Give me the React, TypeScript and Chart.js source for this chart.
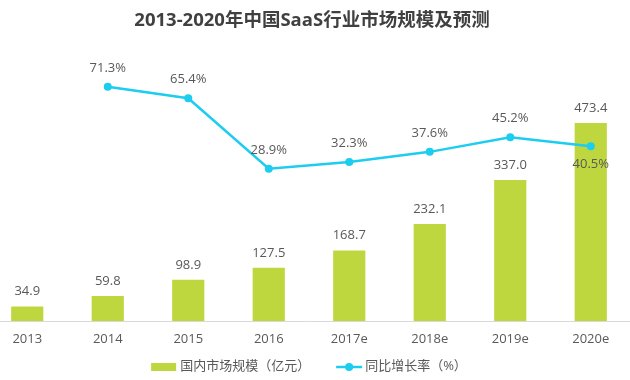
import React, { useEffect, useRef } from "react";
import { Chart, registerables } from "chart.js";

Chart.register(...registerables);

const TITLE = "2013-2020年中国SaaS行业市场规模及预测";
const categories = ["2013", "2014", "2015", "2016", "2017e", "2018e", "2019e", "2020e"];
const marketSize = [34.9, 59.8, 98.9, 127.5, 168.7, 232.1, 337.0, 473.4];
const growthRate: (number | null)[] = [null, 71.3, 65.4, 28.9, 32.3, 37.6, 45.2, 40.5];
const barLegend = "国内市场规模（亿元）";
const lineLegend = "同比增长率（%）";

const BAR_COLOR = "#BFD73F";
const LINE_COLOR = "#1DCDF0";
const TEXT_COLOR = "#595959";
const TITLE_COLOR = "#404040";
const FONT = "'Open Sans', 'Noto Sans CJK SC', sans-serif";
const OFFSET_X = 13;

const overlayPlugin = {
  id: "overlay",
  afterDatasetsDraw(chart: any) {
    const ctx = chart.ctx;
    ctx.save();
    const barMeta = chart.getDatasetMeta(0);
    ctx.font = `13px ${FONT}`;
    ctx.fillStyle = TEXT_COLOR;
    ctx.textAlign = "center";
    ctx.textBaseline = "alphabetic";
    barMeta.data.forEach((el: any, i: number) => {
      ctx.fillText(marketSize[i].toFixed(1), el.x, el.y - 11);
    });
    const lineMeta = chart.getDatasetMeta(1);
    lineMeta.data.forEach((el: any, i: number) => {
      const v = growthRate[i];
      if (v == null) return;
      const below = i === growthRate.length - 1;
      ctx.fillText(v.toFixed(1) + "%", el.x, below ? el.y + 21.5 : el.y - 15);
    });
    ctx.restore();
  },
  afterDraw(chart: any) {
    const ctx = chart.ctx;
    ctx.save();
    ctx.font = `bold 18.5px ${FONT}`;
    ctx.fillStyle = TITLE_COLOR;
    ctx.textAlign = "center";
    ctx.textBaseline = "middle";
    ctx.fillText(TITLE, 312 + OFFSET_X, 21);
    ctx.font = `13px ${FONT}`;
    const w1 = ctx.measureText(barLegend).width;
    const w2 = ctx.measureText(lineLegend).width;
    const total = 25 + 4 + w1 + 26 + 26 + 3 + w2;
    let x = 309 + OFFSET_X - total / 2;
    const cy = 367;
    ctx.fillStyle = BAR_COLOR;
    ctx.fillRect(x, cy - 4, 25, 8);
    x += 29;
    ctx.fillStyle = TEXT_COLOR;
    ctx.textAlign = "left";
    ctx.textBaseline = "middle";
    ctx.fillText(barLegend, x, cy - 1);
    x += w1 + 26;
    ctx.strokeStyle = LINE_COLOR;
    ctx.lineWidth = 2.5;
    ctx.beginPath();
    ctx.moveTo(x, cy);
    ctx.lineTo(x + 26, cy);
    ctx.stroke();
    ctx.fillStyle = LINE_COLOR;
    ctx.beginPath();
    ctx.arc(x + 13, cy, 4, 0, Math.PI * 2);
    ctx.fill();
    x += 29;
    ctx.fillStyle = TEXT_COLOR;
    ctx.fillText(lineLegend, x, cy - 1);
    ctx.restore();
  },
};

export default function App() {
  const ref = useRef<HTMLCanvasElement>(null);
  useEffect(() => {
    if (!ref.current) return;
    const chart = new Chart(ref.current, {
      type: "bar",
      data: {
        labels: categories,
        datasets: [
          {
            type: "bar",
            label: barLegend,
            data: marketSize,
            backgroundColor: BAR_COLOR,
            yAxisID: "y",
            barPercentage: 0.4,
            categoryPercentage: 1,
            order: 2,
          } as any,
          {
            type: "line",
            label: lineLegend,
            data: growthRate,
            borderColor: LINE_COLOR,
            backgroundColor: LINE_COLOR,
            borderWidth: 2.5,
            pointRadius: 4,
            pointBorderWidth: 0,
            pointBackgroundColor: LINE_COLOR,
            yAxisID: "y2",
            spanGaps: false,
            tension: 0,
            order: 1,
          } as any,
        ],
      },
      options: {
        animation: false,
        responsive: true,
        maintainAspectRatio: false,
        layout: { autoPadding: false, padding: { top: 70, left: 0, right: 12, bottom: 19 } },
        plugins: {
          legend: { display: false },
          title: { display: false },
          tooltip: { enabled: false },
        },
        scales: {
          x: {
            offset: true,
            grid: { display: false, drawTicks: false },
            border: { display: true, color: "#D9D9D9", width: 1 },
            ticks: { color: TEXT_COLOR, font: { size: 13, family: FONT }, padding: 10 },
            afterFit: (s: any) => {
              s.height = 40;
            },
          },
          y: { display: false, min: 0, max: 600 },
          y2: { display: false, min: -50, max: 80, position: "right" },
        },
      },
      plugins: [overlayPlugin],
    });
    return () => chart.destroy();
  }, []);
  return (
    <div style={{ position: "absolute", left: 0, top: 0, width: 630, height: 380, overflow: "hidden", background: "#fff" }}>
      <div style={{ position: "absolute", left: -OFFSET_X, top: 0, width: 656, height: 380 }}>
        <canvas ref={ref} />
      </div>
    </div>
  );
}
